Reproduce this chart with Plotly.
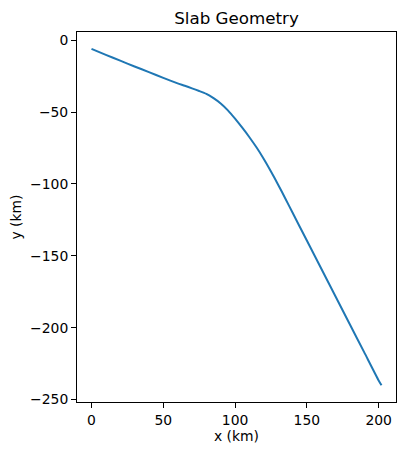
import plotly.graph_objects as go

x_km = [0, 10, 20, 30, 40, 50, 60, 65, 70, 75, 80, 85, 90, 95, 100, 105, 110, 115, 120, 125,
        130, 135, 140, 150, 160, 170, 180, 190, 200, 202]
y_km = [-6, -10.2, -14.2, -18.3, -22.2, -26.2, -30, -31.7, -33.5, -35.3, -37.3, -40.3, -44, -48.8,
        -54.6, -60.9, -67.5, -74.7, -82.6, -91.3, -100.5, -110.1, -119.9, -139.4, -158.8, -178.3,
        -197.8, -217.2, -236.7, -240]

x_ticks = [0, 50, 100, 150, 200]
y_ticks = [0, -50, -100, -150, -200, -250]

# page body has an 8px margin, so the figure is shrunk and shifted accordingly
OFF = 8
W, H = 405 - OFF, 455 - OFF
L, R, T, B = 77 - OFF, 9, 32 - OFF, 53

fig = go.Figure()
fig.add_trace(go.Scatter(x=x_km, y=y_km, mode="lines",
                         line=dict(color="#1f77b4", width=2, shape="spline", smoothing=0.5),
                         showlegend=False, hoverinfo="skip"))

font = dict(family="DejaVu Sans", size=13.9, color="black")
axis_common = dict(showgrid=False, zeroline=False, showline=True, linecolor="black", linewidth=1,
                   mirror=True, ticks="outside", ticklen=5, tickwidth=1, tickcolor="black",
                   tickfont=font, automargin=False)

xmin, xmax = min(x_km), max(x_km)
ymin, ymax = min(y_km), max(y_km)
dx = (xmax - xmin) * 0.05
dy = (ymax - ymin) * 0.05

fig.update_layout(
    width=W, height=H,
    margin=dict(l=L, r=R, t=T, b=B),
    paper_bgcolor="white", plot_bgcolor="white",
    font=font,
    title=dict(text="Slab Geometry", x=0.5, xref="paper", xanchor="center",
               y=1 - (18 - OFF) / H, yref="container", yanchor="middle",
               font=dict(family="DejaVu Sans", size=16.7, color="black")),
    xaxis=dict(range=[xmin - dx, xmax + dx], tickvals=x_ticks,
               title=dict(text="x (km)", font=font, standoff=4), **axis_common),
    yaxis=dict(range=[ymin - dy, ymax + dy], tickvals=y_ticks,
               title=dict(text="y (km)", font=font, standoff=6), **axis_common),
)

fig.write_html("out.html")
